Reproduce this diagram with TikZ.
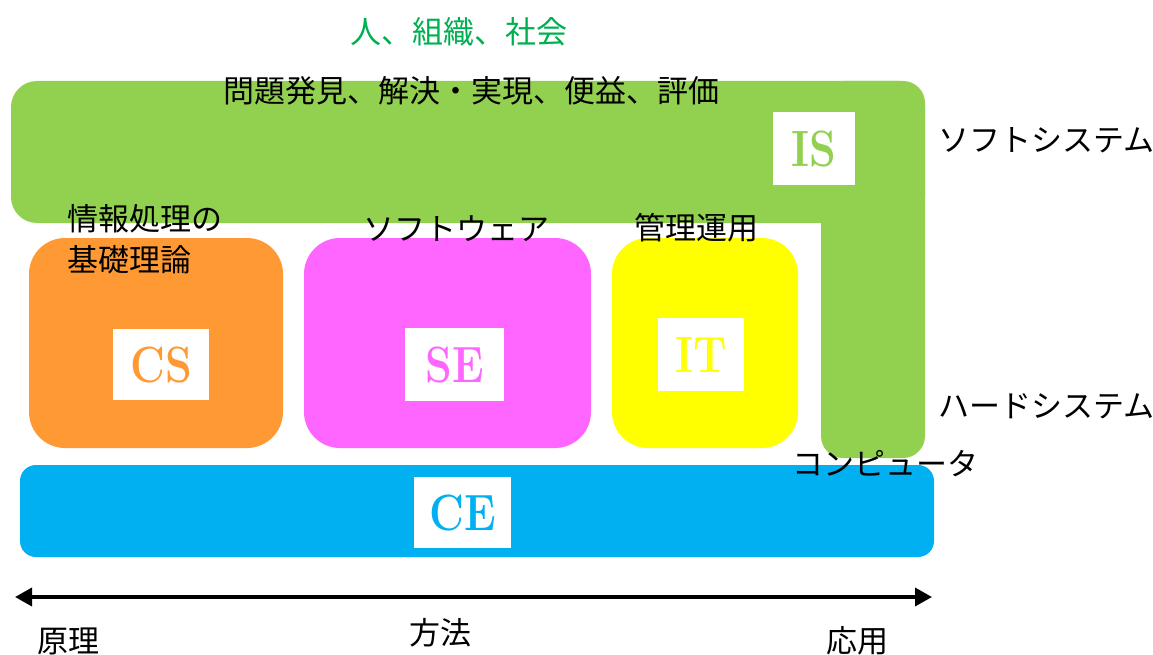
\documentclass[tikz,border=0pt]{standalone}
\usepackage{fontspec}
\usepackage{graphicx}
\usetikzlibrary{arrows.meta}
\newfontfamily\jp{Noto Sans CJK JP}
\definecolor{isgreen}{HTML}{92D050}
\definecolor{csorange}{HTML}{FF9933}
\definecolor{semag}{HTML}{FF66FF}
\definecolor{ityel}{HTML}{FFFF00}
\definecolor{ceblue}{HTML}{00B0F0}
\definecolor{txtgreen}{HTML}{00B050}
\tikzset{
  jtext/.style={inner sep=0pt, font=\jp\fontsize{31}{31}\selectfont, text=black},
  area/.style={rounded corners=36pt},
  whitebox/.style={fill=white},
  abbr/.style={inner sep=0pt, font=\fontsize{51}{51}\selectfont\bfseries},
}
\newcommand{\narrow}[1]{\scalebox{0.84}[1]{#1}}
\begin{document}
\begin{tikzpicture}[x=1pt,y=-1pt]
\useasboundingbox (0,0) rectangle (1153,655);
% IS green L shape
\fill[isgreen, rounded corners=26pt] (11,81) rectangle (925,223);
\fill[isgreen, rounded corners=22pt] (821,81) rectangle (925,458);
\fill[whitebox] (773,112) rectangle (855,185);
\node[abbr, text=isgreen] (is) at (814,149) {\narrow{IS}};
% CS
\fill[csorange, area] (29,238) rectangle (283,448);
\fill[whitebox] (113,329) rectangle (209,400);
\node[abbr, text=csorange] (cs) at (161,365) {\narrow{CS}};
% SE
\fill[semag, area] (304,238) rectangle (591,448);
\fill[whitebox] (405,328) rectangle (504,401);
\node[abbr, text=semag] (se) at (454.5,365) {\narrow{SE}};
% IT
\fill[ityel, area] (612,238) rectangle (798,448);
\fill[whitebox] (658,318) rectangle (744,391);
\node[abbr, text=ityel] (it) at (701,355) {\narrow{IT}};
% CE
\fill[ceblue, rounded corners=16pt] (20,465) rectangle (934,557);
\fill[whitebox] (414,477) rectangle (511,548);
\node[abbr, text=ceblue] (ce) at (462.5,513) {\narrow{CE}};
% texts
\node[jtext, text=txtgreen, anchor=base] (soc) at (459,44) {人、組織、社会};
\node[jtext, anchor=base] (prob) at (471,103) {問題発見、解決・実現、便益、評価};
\node[jtext, anchor=base west] (soft) at (938,152) {ソフトシステム};
\node[jtext, anchor=base west] (hard) at (938,417) {ハードシステム};
\node[jtext, anchor=base west] (comp) at (792,475) {コンピュータ};
\node[jtext, anchor=base west] (th1) at (67,230) {情報処理の};
\node[jtext, anchor=base west] (th2) at (67,271) {基礎理論};
\node[jtext, anchor=base west] (sw) at (363,240) {ソフトウェア};
\node[jtext, anchor=base west] (mg) at (634,239) {管理運用};
\node[jtext, anchor=base west] (gen) at (37,652) {原理};
\node[jtext, anchor=base west] (hou) at (409,644) {方法};
\node[jtext, anchor=base west] (ou) at (826,652) {応用};
% arrow
\coordinate (al) at (15,597);
\coordinate (ar) at (932,597);
\draw[line width=3.5pt, {Triangle[length=17pt,width=18pt]}-{Triangle[length=17pt,width=18pt]}] (al) -- (ar);
\end{tikzpicture}
\end{document}
